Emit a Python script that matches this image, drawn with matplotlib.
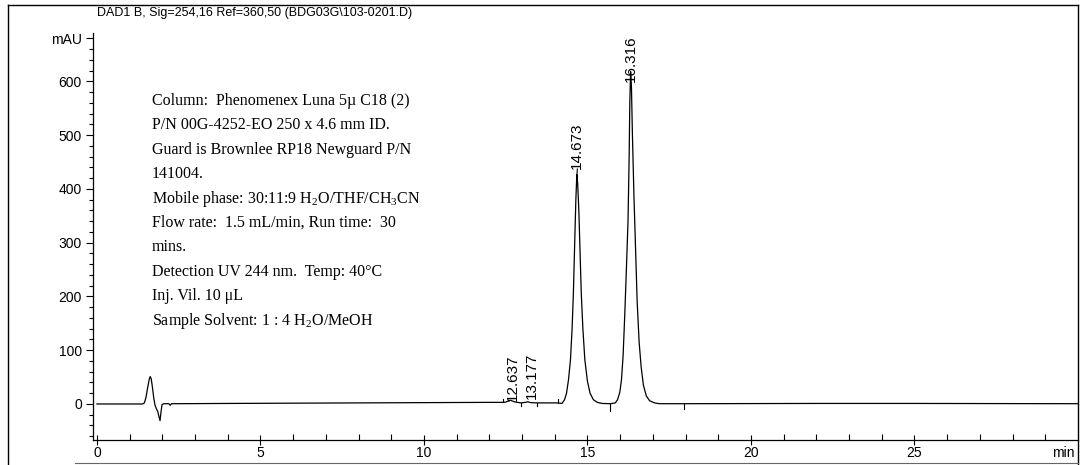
import numpy as np
import matplotlib
matplotlib.use("Agg")
import matplotlib.pyplot as plt
from matplotlib.lines import Line2D
from matplotlib.ticker import MultipleLocator, FixedLocator

plt.rcParams['font.family'] = ['Liberation Sans', 'DejaVu Sans']
plt.rcParams['mathtext.fontset'] = 'custom'
plt.rcParams['mathtext.rm'] = 'Liberation Serif'

# trace (time in min, signal in mAU)
inj_t = [0.0, 1.40, 1.45, 1.50, 1.55, 1.60, 1.63, 1.66, 1.70, 1.74, 1.78, 1.82, 1.86, 1.90, 1.93, 1.96, 1.99, 2.05, 2.20, 2.24, 2.28, 2.40]
inj_mau = [0.0, 0.0, 2, 12, 30, 46, 51, 47, 30, 10, -3, -9, -14, -24, -31, -15, -1, 0.5, 0.5, -2.5, 0.5, 0.5]

base_t = [4.0, 8.0, 10.0, 12.0, 12.42]
base_mau = [1.0, 2.0, 2.5, 3.0, 3.0]

small_t = [12.50, 12.58, 12.64, 12.70, 12.80, 12.97, 13.10, 13.18, 13.26, 13.46, 14.10]
small_mau = [3.5, 5.5, 7.0, 5.5, 3.5, 2.0, 3.0, 4.0, 2.5, 2.0, 2.0]

pk1_t = [14.22, 14.30, 14.36, 14.42, 14.48, 14.53, 14.57, 14.61, 14.645, 14.675, 14.70, 14.735, 14.77, 14.81, 14.86, 14.92, 15.00, 15.08, 15.18, 15.30, 15.45]
pk1_mau = [1.0, 8, 20, 45, 82, 140, 207, 300, 380, 427, 410, 362, 290, 207, 140, 82, 42, 20, 8, 3, 1]

pk2_t = [15.70, 15.85, 15.92, 15.99, 16.04, 16.09, 16.14, 16.19, 16.24, 16.275, 16.295, 16.32, 16.345, 16.375, 16.42, 16.47, 16.52, 16.58, 16.64, 16.71, 16.80, 16.90, 17.05, 17.20]
pk2_mau = [0.5, 2, 8, 22, 45, 90, 165, 250, 340, 460, 560, 618, 590, 500, 390, 290, 190, 115, 70, 35, 15, 6, 2, 0.5]

tail_t = [17.95, 22.0, 25.0, 30.0]
tail_mau = [0.5, 1.0, 1.0, 0.5]

# integration baseline markers: time, length in mAU (+ up, - down)
mark_t = [12.42, 12.97, 13.46, 14.10, 15.70, 17.95]
mark_len = [7, -6, -6, 8, -14, -9]

peak_lbl = ["12.637", "13.177", "14.673", "16.316"]
peak_lbl_x = [12.72, 13.30, 14.69, 16.33]
peak_lbl_y = [6, 9, 437, 598]

y_major = [0, 100, 200, 300, 400, 500, 600, 680]
y_major_lbl = ["0", "100", "200", "300", "400", "500", "600", "mAU"]
x_major = [0, 5, 10, 15, 20, 25, 29.55]
x_major_lbl = ["0", "5", "10", "15", "20", "25", "min"]

notes = [
    "Column:  Phenomenex Luna 5\u00b5 C18 (2)",
    "P/N 00G-4252-EO 250 x 4.6 mm ID.",
    "Guard is Brownlee RP18 Newguard P/N",
    "141004.",
    r"Mobile phase: 30:11:9 H$_\mathrm{2}$O/THF/CH$_\mathrm{3}$CN",
    "Flow rate:  1.5 mL/min, Run time:  30",
    "mins.",
    "Detection UV 244 nm.  Temp: 40\u00b0C",
    "Inj. Vil. 10 \u03bcL",
    r"Sample Solvent: 1 : 4 H$_\mathrm{2}$O/MeOH",
]

W, H = 1081, 465
fig = plt.figure(figsize=(W / 100, H / 100), dpi=100)
ax = fig.add_axes([93 / W, (H - 440) / H, (1078 - 93) / W, (440 - 33) / H])

t = inj_t + base_t + small_t + pk1_t + pk2_t + tail_t
s = inj_mau + base_mau + small_mau + pk1_mau + pk2_mau + tail_mau
ax.plot(t, s, color="black", lw=0.9)

for mt, ml in zip(mark_t, mark_len):
    b = np.interp(mt, t, s)
    ax.plot([mt, mt], [b, b + ml], color="black", lw=0.8)

for x, y, lab in zip(peak_lbl_x, peak_lbl_y, peak_lbl):
    ax.text(x, y, lab, rotation=90, ha="center", va="bottom", fontsize=11)
ax.plot([14.68, 14.69], [427, 437], color="black", lw=0.8)

ax.set_xlim(-0.12, 30.0)
ax.set_ylim(-67, 690)
for side in ["top", "right"]:
    ax.spines[side].set_visible(False)
ax.spines["left"].set_linewidth(0.9)
ax.spines["bottom"].set_linewidth(0.9)

ax.yaxis.set_major_locator(FixedLocator(y_major))
ax.set_yticklabels(y_major_lbl)
ax.yaxis.set_minor_locator(MultipleLocator(20))
ax.tick_params(axis="y", which="major", direction="out", length=5, width=0.8, labelsize=10, pad=3)
ax.tick_params(axis="y", which="minor", direction="out", length=3, width=0.8)

ax.xaxis.set_major_locator(FixedLocator(x_major))
ax.set_xticklabels(x_major_lbl)
ax.xaxis.set_minor_locator(FixedLocator(list(range(1, 30))))
ax.tick_params(axis="x", which="major", direction="inout", length=7, width=0.8, labelsize=10, pad=1)
ax.tick_params(axis="x", which="minor", direction="in", length=4, width=0.8)
ax.get_xticklines()[-2].set_visible(False)
ax.get_xticklines()[-1].set_visible(False)

# outer frame
fig.add_artist(Line2D([8 / W, 8 / W], [0, 1 - 5 / H], color="black", lw=1.0))
fig.add_artist(Line2D([8 / W, 1078 / W], [1 - 5 / H, 1 - 5 / H], color="black", lw=1.0))
fig.add_artist(Line2D([1078 / W, 1078 / W], [0, 1 - 5 / H], color="black", lw=1.0))
fig.add_artist(Line2D([75 / W, 1078 / W], [1 - 463 / H, 1 - 463 / H], color="0.4", lw=0.8))

fig.text(97 / W, 1 - 13 / H, "DAD1 B, Sig=254,16 Ref=360,50 (BDG03G\\103-0201.D)",
         fontsize=9, va="center", ha="left")

for i, line in enumerate(notes):
    yb = 105 + i * 24.4
    fig.text(152 / W, 1 - yb / H, line, fontsize=11.5, family="Liberation Serif",
             va="baseline", ha="left")

fig.savefig("out.png", dpi=100)
